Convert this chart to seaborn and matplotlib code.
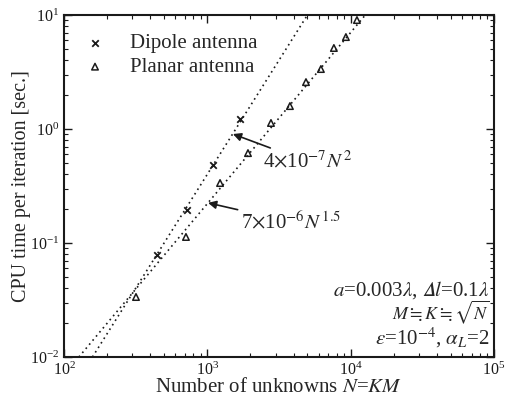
import numpy as np
import pandas as pd
import seaborn as sns
import matplotlib.pyplot as plt

dipole_n = [446, 722, 1097, 1690]
dipole_t = [0.0785, 0.194, 0.483, 1.22]
planar_n = [318, 710, 1228, 1924, 2784, 3776, 4887, 6212, 7653, 9285, 11090]
planar_t = [0.0336, 0.113, 0.336, 0.615, 1.13, 1.59, 2.58, 3.36, 5.14, 6.41, 9.04]

# fitted lines, end points where they cross the frame
dipole_fit_n = [158, 5000]
dipole_fit_t = [0.01, 10]
planar_fit_n = [127, 12680]
planar_fit_t = [0.01, 10]

sns.set_theme(style="ticks")
plt.rcParams['font.family'] = ['Liberation Serif', 'DejaVu Serif']
plt.rcParams['mathtext.fontset'] = 'stix'
plt.rcParams['xtick.direction'] = 'in'
plt.rcParams['ytick.direction'] = 'in'

fig = plt.figure(figsize=(5.08, 3.96), dpi=100)
ax = fig.add_axes([0.126, 0.0985, 0.846, 0.8635])

dots = (0, (1, 2.2))
sns.lineplot(x=dipole_fit_n, y=dipole_fit_t, ax=ax, color='k', lw=1.2,
             linestyle=dots, legend=False)
sns.lineplot(x=planar_fit_n, y=planar_fit_t, ax=ax, color='k', lw=1.2,
             linestyle=dots, legend=False)

sns.scatterplot(x=dipole_n, y=dipole_t, ax=ax, marker='x', color='k', s=22,
                linewidth=1.3, label='Dipole antenna')
sns.scatterplot(x=planar_n, y=planar_t, ax=ax, marker='^', facecolor='none',
                edgecolor='k', s=22, linewidth=1.1, label='Planar antenna')

ax.set_xscale('log')
ax.set_yscale('log')
ax.set_xlim(1e2, 1e5)
ax.set_ylim(1e-2, 1e1)

for sp in ax.spines.values():
    sp.set_linewidth(1.5)
    sp.set_color('k')
ax.tick_params(which='both', top=True, right=True, colors='k', labelsize=11.5)
ax.tick_params(which='major', length=6, width=1)
ax.tick_params(which='minor', length=3, width=0.8)

ax.set_xlabel('Number of unknowns $N$=$KM$', fontsize=15, labelpad=-1)
ax.set_ylabel('CPU time per iteration [sec.]', fontsize=14.5, labelpad=-1)

leg = ax.legend(loc='upper left', bbox_to_anchor=(-0.02, 1.0), frameon=False,
                fontsize=15, handletextpad=0.7, labelspacing=0.2,
                markerscale=1.0)

ax.annotate('4$\\times$10$^{-7}$$N^{\\,2}$', xy=(1510, 0.904), xytext=(2450, 0.514),
            fontsize=15, va='center', ha='left',
            arrowprops=dict(arrowstyle='-|>', color='k', lw=1.2,
                            shrinkA=0, shrinkB=0, mutation_scale=12))
ax.annotate('7$\\times$10$^{-6}$$N^{\\,1.5}$', xy=(1012, 0.225), xytext=(1718, 0.153),
            fontsize=15, va='center', ha='left',
            arrowprops=dict(arrowstyle='-|>', color='k', lw=1.2,
                            shrinkA=0, shrinkB=0, mutation_scale=12))

params = ['$a$=0.003$\\lambda$, $\U0001D6E5l$=0.1$\\lambda$',
          '$M$$\\fallingdotseq$$K$$\\fallingdotseq$$\\sqrt{N}$',
          '$\\varepsilon$=10$^{-4}$, $\\alpha_L$=2']
sizes = [15, 13, 15]
ypos = [0.197, 0.130, 0.055]
for s, fs, yy in zip(params, sizes, ypos):
    ax.text(0.99, yy, s, transform=ax.transAxes, ha='right',
            va='center', fontsize=fs)

fig.savefig('out.png', dpi=100)
